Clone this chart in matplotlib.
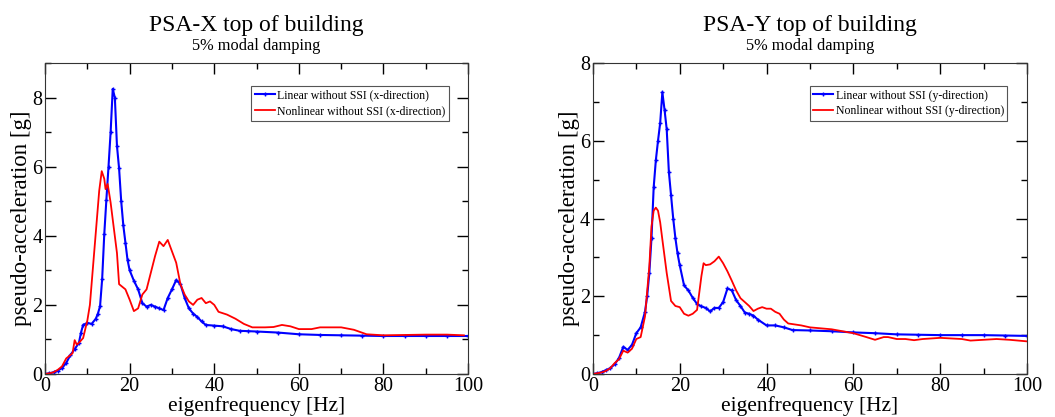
import matplotlib.pyplot as plt
from matplotlib.ticker import MultipleLocator

plt.rcParams['font.family'] = ['Liberation Serif', 'DejaVu Serif']
plt.rcParams['mathtext.fontset'] = 'stix'

# PSA-X, linear without SSI
fx_lin = [0, 1, 2, 3, 4, 5, 6, 7, 8, 8.5, 9, 10, 11, 12, 12.5, 13, 13.5, 14, 14.5, 15, 15.5,
          16, 16.5, 17, 17.5, 18, 18.5, 19, 19.5, 20, 21, 22, 23, 24, 25, 26, 27, 28, 29, 30,
          31, 32, 33, 34, 35, 36, 37, 38, 40, 42, 44, 46, 48, 50, 55, 60, 65, 70, 75, 80,
          85, 90, 95, 100]
psa_x_lin = [0, 0.02, 0.05, 0.1, 0.17, 0.32, 0.55, 0.72, 0.9, 1.2, 1.42, 1.48, 1.45, 1.6, 1.75,
             1.96, 2.75, 4.05, 5.05, 6.0, 7.0, 8.25, 8.0, 6.6, 5.95, 5.0, 4.3, 3.8, 3.3, 3.0,
             2.7, 2.45, 2.05, 1.95, 2.0, 1.95, 1.9, 1.85, 2.2, 2.45, 2.72, 2.6, 2.2, 1.9, 1.75,
             1.65, 1.52, 1.42, 1.4, 1.38, 1.3, 1.25, 1.24, 1.23, 1.2, 1.15, 1.13, 1.12, 1.11,
             1.1, 1.1, 1.1, 1.1, 1.1]

# PSA-X, nonlinear without SSI
fx_nl = [0, 1, 2, 3, 4, 5, 6, 6.5, 7, 7.5, 8, 9, 10, 10.6, 11, 12, 12.8, 13.4, 14, 14.3, 14.8,
         15.5, 16, 17, 17.5, 18, 19, 20, 21, 22, 23, 24, 25, 26, 27, 28, 29, 30, 31, 32, 33,
         34, 35, 36, 37, 38, 39, 40, 41, 43, 45, 47, 49, 52, 54, 56, 58, 60, 63, 65, 70, 73,
         76, 80, 85, 90, 95, 99]
psa_x_nl = [0, 0.02, 0.05, 0.12, 0.22, 0.45, 0.55, 0.6, 0.98, 0.85, 0.9, 1.04, 1.55, 2.0, 2.6,
            4.1, 5.3, 5.87, 5.65, 5.35, 5.5, 4.96, 4.47, 3.5, 2.6, 2.55, 2.45, 2.15, 1.82, 1.9,
            2.3, 2.45, 2.93, 3.41, 3.83, 3.7, 3.88, 3.55, 3.22, 2.6, 2.3, 2.1, 2.0, 2.15, 2.2,
            2.05, 2.1, 2.0, 1.8, 1.72, 1.6, 1.45, 1.35, 1.35, 1.36, 1.42, 1.38, 1.3, 1.3, 1.35,
            1.35, 1.28, 1.15, 1.12, 1.13, 1.14, 1.14, 1.12]

# PSA-Y, linear without SSI
fy_lin = [0, 1, 2, 3, 4, 5, 6, 7, 8, 9, 10, 11, 12, 12.5, 13, 13.5, 14, 14.5, 15, 15.5, 16,
          16.5, 17, 17.5, 18, 18.5, 19, 19.5, 20, 21, 22, 23, 24, 25, 26, 27, 28, 29, 30, 31,
          32, 33, 34, 35, 36, 37, 38, 40, 42, 44, 46, 50, 55, 60, 65, 70, 75, 80, 85, 90, 95,
          100]
psa_y_lin = [0, 0.02, 0.05, 0.1, 0.15, 0.25, 0.41, 0.7, 0.62, 0.75, 1.05, 1.2, 1.6, 2.0, 2.6,
             3.5, 4.8, 5.5, 6.0, 6.46, 7.25, 6.8, 6.3, 5.2, 4.6, 4.0, 3.5, 3.1, 2.8, 2.28,
             2.15, 1.96, 1.8, 1.74, 1.7, 1.61, 1.7, 1.7, 1.85, 2.2, 2.15, 1.9, 1.75, 1.58, 1.55,
             1.5, 1.4, 1.25, 1.25, 1.2, 1.13, 1.12, 1.1, 1.07, 1.05, 1.02, 1.01, 1.0, 1.0, 1.0,
             0.99, 0.98]

# PSA-Y, nonlinear without SSI
fy_nl = [0, 1, 2, 3, 4, 5, 6, 7, 8, 9, 10, 11, 12, 13, 13.5, 14, 14.5, 15, 15.5, 16, 17, 18,
         19, 20, 21, 22, 23, 24, 25, 25.5, 26, 27, 28, 29, 30, 31, 32, 33, 34, 35, 36, 37, 38,
         39, 40, 41, 42, 43, 44, 45, 48, 50, 55, 60, 63, 65, 67, 68, 70, 72, 74, 76, 80, 85,
         87, 90, 93, 96, 100]
psa_y_nl = [0, 0.02, 0.04, 0.08, 0.15, 0.28, 0.38, 0.6, 0.55, 0.65, 0.9, 0.95, 1.48, 2.77, 3.8,
            4.2, 4.28, 4.2, 3.9, 3.46, 2.6, 1.88, 1.75, 1.72, 1.55, 1.5, 1.55, 1.65, 2.52, 2.85,
            2.8, 2.82, 2.9, 3.02, 2.85, 2.64, 2.4, 2.15, 1.95, 1.85, 1.75, 1.62, 1.68, 1.72,
            1.68, 1.68, 1.6, 1.55, 1.4, 1.3, 1.25, 1.2, 1.15, 1.05, 0.95, 0.88, 0.95, 0.95,
            0.9, 0.9, 0.87, 0.9, 0.93, 0.9, 0.86, 0.88, 0.9, 0.88, 0.84]

titles = ['PSA-X top of building', 'PSA-Y top of building']
subtitle = '5% modal damping'
lin_labels = ['Linear without SSI (x-direction)', 'Linear without SSI (y-direction)']
nl_labels = ['Nonlinear without SSI (x-direction)', 'Nonlinear without SSI (y-direction)']
ymaxes = [9, 8]

fig = plt.figure(figsize=(10.55, 4.17), dpi=100)
ax1 = fig.add_axes([0.0427, 0.1031, 0.401, 0.7458])
ax2 = fig.add_axes([0.562, 0.1031, 0.4114, 0.7458])

curves = [(fx_lin, psa_x_lin, fx_nl, psa_x_nl), (fy_lin, psa_y_lin, fy_nl, psa_y_nl)]

for i, ax in enumerate([ax1, ax2]):
    f_lin, a_lin, f_nl, a_nl = curves[i]
    ax.plot(f_lin, a_lin, color='#0000ff', lw=1.5, marker='+', ms=3, mew=1,
            label=lin_labels[i])
    ax.plot(f_nl, a_nl, color='#ff0000', lw=1.3, label=nl_labels[i])
    ax.set_xlim(0, 100)
    ax.set_ylim(0, ymaxes[i])
    ax.xaxis.set_major_locator(MultipleLocator(20))
    ax.xaxis.set_minor_locator(MultipleLocator(10))
    ax.yaxis.set_major_locator(MultipleLocator(2))
    ax.yaxis.set_minor_locator(MultipleLocator(1))
    ax.tick_params(which='both', direction='in', top=True, right=True, labelsize=14.5, pad=2)
    ax.tick_params(which='major', length=8, width=1)
    ax.tick_params(which='minor', length=4, width=1)
    for s in ax.spines.values():
        s.set_color('#333333')
    ax.set_xlabel('eigenfrequency [Hz]', fontsize=15.5, labelpad=0)
    ax.set_ylabel('pseudo-acceleration [g]', fontsize=16.5, labelpad=0)
    ax.text(0.5, 1.103, titles[i], transform=ax.transAxes, ha='center', va='baseline',
            fontsize=17)
    ax.text(0.5, 1.042, subtitle, transform=ax.transAxes, ha='center', va='baseline',
            fontsize=11.8)
    leg = ax.legend(loc='upper right', bbox_to_anchor=(0.955, 0.926), fontsize=8.5,
                    fancybox=False, framealpha=1, edgecolor='#555555', handlelength=1.7,
                    borderpad=0.3, labelspacing=0.3, handletextpad=0.2, borderaxespad=0)
    leg.get_frame().set_linewidth(0.8)

plt.savefig('out.png', dpi=100)
